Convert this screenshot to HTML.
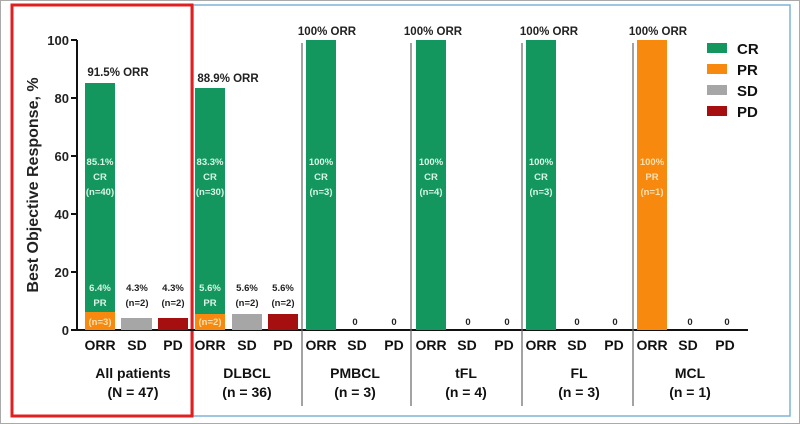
<!DOCTYPE html>
<html><head><meta charset="utf-8"><style>body{margin:0;background:#fff}svg{display:block}</style></head><body>
<svg width="800" height="424" xmlns="http://www.w3.org/2000/svg" font-family="Liberation Sans, sans-serif" font-weight="bold">
<rect x="0.5" y="0.5" width="799" height="423" fill="#fff" stroke="#aaa"/>
<rect x="193" y="5" width="597" height="411" fill="none" stroke="#7fb3d5" stroke-width="1.5"/>
<rect x="12" y="5" width="180" height="411" fill="none" stroke="#e02020" stroke-width="3"/>
<g stroke="#111" stroke-width="2"><line x1="77" y1="40" x2="77" y2="331"/><line x1="76" y1="330" x2="748" y2="330"/>
<line x1="71" y1="40" x2="77" y2="40"/><line x1="71" y1="98" x2="77" y2="98"/><line x1="71" y1="156" x2="77" y2="156"/><line x1="71" y1="214" x2="77" y2="214"/><line x1="71" y1="272" x2="77" y2="272"/><line x1="71" y1="330" x2="77" y2="330"/></g>
<g font-size="13" text-anchor="end" fill="#222"><text x="69" y="45">100</text><text x="69" y="103">80</text><text x="69" y="161">60</text><text x="69" y="219">40</text><text x="69" y="277">20</text><text x="69" y="335">0</text></g>
<text transform="translate(38,185) rotate(-90)" font-size="16" text-anchor="middle" fill="#222">Best Objective Response, %</text>
<g stroke="#666" stroke-width="1.2"><line x1="302" y1="43" x2="302" y2="406"/><line x1="411" y1="43" x2="411" y2="406"/><line x1="522" y1="43" x2="522" y2="406"/><line x1="633" y1="43" x2="633" y2="406"/></g>
<rect x="85" y="83" width="30" height="229" fill="#14975f"/><rect x="85" y="312" width="30" height="18" fill="#f7890e"/>
<rect x="121" y="318" width="31" height="12" fill="#a6a6a6"/><rect x="158" y="318" width="30" height="12" fill="#a50f0f"/>
<rect x="195" y="88" width="30" height="226" fill="#14975f"/><rect x="195" y="314" width="30" height="16" fill="#f7890e"/>
<rect x="232" y="314" width="30" height="16" fill="#a6a6a6"/><rect x="268" y="314" width="30" height="16" fill="#a50f0f"/>
<rect x="306" y="40" width="30" height="290" fill="#14975f"/>
<rect x="416" y="40" width="30" height="290" fill="#14975f"/>
<rect x="526" y="40" width="30" height="290" fill="#14975f"/>
<rect x="637" y="40" width="30" height="290" fill="#f7890e"/>
<g font-size="11.5" text-anchor="middle" fill="#222">
<text x="118" y="76">91.5% ORR</text><text x="228" y="82">88.9% ORR</text>
<text x="327" y="35">100% ORR</text><text x="433" y="35">100% ORR</text><text x="549" y="35">100% ORR</text><text x="658" y="35">100% ORR</text>
</g>
<g font-size="9.5" text-anchor="middle" fill="#d8f5e6">
<text x="100" y="165">85.1%</text><text x="100" y="180">CR</text><text x="100" y="195">(n=40)</text>
<text x="210" y="165">83.3%</text><text x="210" y="180">CR</text><text x="210" y="195">(n=30)</text>
<text x="100" y="291">6.4%</text><text x="100" y="306">PR</text>
<text x="210" y="291">5.6%</text><text x="210" y="306">PR</text>
<text x="321" y="165">100%</text><text x="321" y="180">CR</text><text x="321" y="195">(n=3)</text>
<text x="431" y="165">100%</text><text x="431" y="180">CR</text><text x="431" y="195">(n=4)</text>
<text x="541" y="165">100%</text><text x="541" y="180">CR</text><text x="541" y="195">(n=3)</text>
</g>
<g font-size="9.5" text-anchor="middle" fill="#ffe0b0">
<text x="100" y="325">(n=3)</text><text x="210" y="325">(n=2)</text>
<text x="652" y="165">100%</text><text x="652" y="180">PR</text><text x="652" y="195">(n=1)</text>
</g>
<g font-size="9.5" text-anchor="middle" fill="#222">
<text x="137" y="291">4.3%</text><text x="137" y="306">(n=2)</text><text x="173" y="291">4.3%</text><text x="173" y="306">(n=2)</text>
<text x="247" y="291">5.6%</text><text x="247" y="306">(n=2)</text><text x="283" y="291">5.6%</text><text x="283" y="306">(n=2)</text>
<text x="355" y="325">0</text><text x="394" y="325">0</text><text x="468" y="325">0</text><text x="507" y="325">0</text>
<text x="577" y="325">0</text><text x="615" y="325">0</text><text x="690" y="325">0</text><text x="727" y="325">0</text>
</g>
<g font-size="14" text-anchor="middle" fill="#111">
<text x="100" y="350">ORR</text><text x="137" y="350">SD</text><text x="173" y="350">PD</text>
<text x="210" y="350">ORR</text><text x="247" y="350">SD</text><text x="283" y="350">PD</text>
<text x="321" y="350">ORR</text><text x="357" y="350">SD</text><text x="394" y="350">PD</text>
<text x="431" y="350">ORR</text><text x="467" y="350">SD</text><text x="504" y="350">PD</text>
<text x="541" y="350">ORR</text><text x="577" y="350">SD</text><text x="614" y="350">PD</text>
<text x="652" y="350">ORR</text><text x="688" y="350">SD</text><text x="725" y="350">PD</text>
<text x="133" y="378">All patients</text><text x="133" y="397">(N = 47)</text>
<text x="247" y="378">DLBCL</text><text x="247" y="397">(n = 36)</text>
<text x="355" y="378">PMBCL</text><text x="355" y="397">(n = 3)</text>
<text x="466" y="378">tFL</text><text x="466" y="397">(n = 4)</text>
<text x="579" y="378">FL</text><text x="579" y="397">(n = 3)</text>
<text x="690" y="378">MCL</text><text x="690" y="397">(n = 1)</text>
</g>
<rect x="707" y="43" width="20" height="10" fill="#14975f"/><rect x="707" y="64" width="20" height="10" fill="#f7890e"/>
<rect x="707" y="85" width="20" height="10" fill="#a6a6a6"/><rect x="707" y="106" width="20" height="10" fill="#a50f0f"/>
<g font-size="15" fill="#111"><text x="737" y="54">CR</text><text x="737" y="75">PR</text><text x="737" y="96">SD</text><text x="737" y="117">PD</text></g>
</svg>
</body></html>
